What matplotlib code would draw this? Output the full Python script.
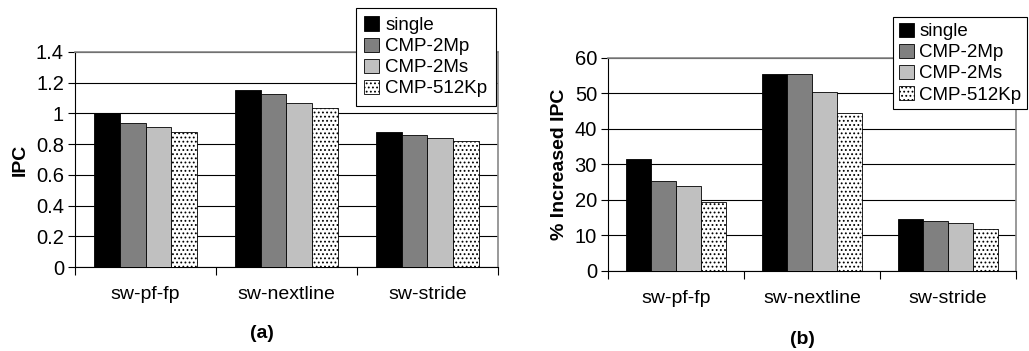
import numpy as np
import matplotlib
matplotlib.use('Agg')
import matplotlib.pyplot as plt

plt.rcParams['font.family'] = ['Liberation Sans', 'DejaVu Sans']
plt.rcParams['hatch.color'] = '#555555'
plt.rcParams['hatch.linewidth'] = 0.8

# data
benchmarks = ['sw-pf-fp', 'sw-nextline', 'sw-stride']
configs = ['single', 'CMP-2Mp', 'CMP-2Ms', 'CMP-512Kp']
ipc_single = [1.005, 1.15, 0.877]
ipc_2mp = [0.94, 1.123, 0.857]
ipc_2ms = [0.908, 1.065, 0.837]
ipc_512kp = [0.877, 1.032, 0.823]
inc_single = [31.5, 55.6, 14.5]
inc_2mp = [25.2, 55.6, 14.0]
inc_2ms = [24.0, 50.5, 13.6]
inc_512kp = [19.3, 44.6, 11.9]

colors = ['black', '#808080', '#c0c0c0', 'white']
hatches = [None, None, None, '....']

fig = plt.figure(figsize=(10.29, 3.51), dpi=100)
ax1 = fig.add_axes([0.0729, 0.2393, 0.411, 0.613])
ax2 = fig.add_axes([0.591, 0.228, 0.3965, 0.607])


def draw(ax, series, ymax, ystep, ylabel, panel, panel_pos, legend_loc, legend_pos, pad):
    bw = 0.1825
    x = np.arange(len(benchmarks)) + 0.5
    handles = []
    for i, vals in enumerate(series):
        b = ax.bar(x + (i - 1.5) * bw, vals, bw, color=colors[i], edgecolor='black',
                   linewidth=0.6, hatch=hatches[i], zorder=3, label=configs[i])
        handles.append(b)
    ax.set_xlim(0, 3)
    ax.set_ylim(0, ymax)
    yt = np.arange(0, ymax + ystep / 2, ystep)
    ax.set_yticks(yt)
    ax.set_yticklabels(['%g' % v for v in yt], fontsize=14.5)
    ax.yaxis.grid(True, color='black', linewidth=0.8, zorder=0)
    ax.set_xticks([0, 1, 2, 3])
    ax.set_xticklabels([])
    ax.set_xticks(x, minor=True)
    ax.set_xticklabels(benchmarks, minor=True, fontsize=14)
    ax.tick_params(axis='x', which='minor', length=0, pad=14)
    ax.tick_params(axis='x', which='major', length=6, width=0.8, direction='out')
    ax.tick_params(axis='y', length=5, width=0.8, direction='out', pad=3)
    for s in ['top', 'right']:
        ax.spines[s].set_color('#888888')
        ax.spines[s].set_linewidth(1.2)
    ax.spines['left'].set_linewidth(0.8)
    ax.spines['bottom'].set_linewidth(0.8)
    ax.set_ylabel(ylabel, fontsize=14, fontweight='bold', labelpad=5)
    fig.text(panel_pos[0], panel_pos[1], panel, ha='center', va='center',
             fontsize=14, fontweight='bold')
    leg = ax.legend(handles=handles, loc=legend_loc, bbox_to_anchor=legend_pos,
                    bbox_transform=fig.transFigure, fancybox=False, framealpha=1,
                    edgecolor='black', fontsize=13.5, handlelength=0.8, handleheight=0.8,
                    handletextpad=0.3, borderpad=pad, labelspacing=0.18,
                    borderaxespad=0)
    leg.get_frame().set_linewidth(0.8)
    leg.set_zorder(5)


draw(ax1, [ipc_single, ipc_2mp, ipc_2ms, ipc_512kp], 1.4, 0.2, 'IPC', '(a)',
     (262 / 1029, 1 - 333 / 351), 'upper left', (356 / 1029, 1 - 8 / 351), 0.45)
draw(ax2, [inc_single, inc_2mp, inc_2ms, inc_512kp], 60, 10, '% Increased IPC', '(b)',
     (802 / 1029, 1 - 339 / 351), 'upper right', (1027 / 1029, 1 - 17 / 351), 0.3)

fig.savefig('out.png', dpi=100)
